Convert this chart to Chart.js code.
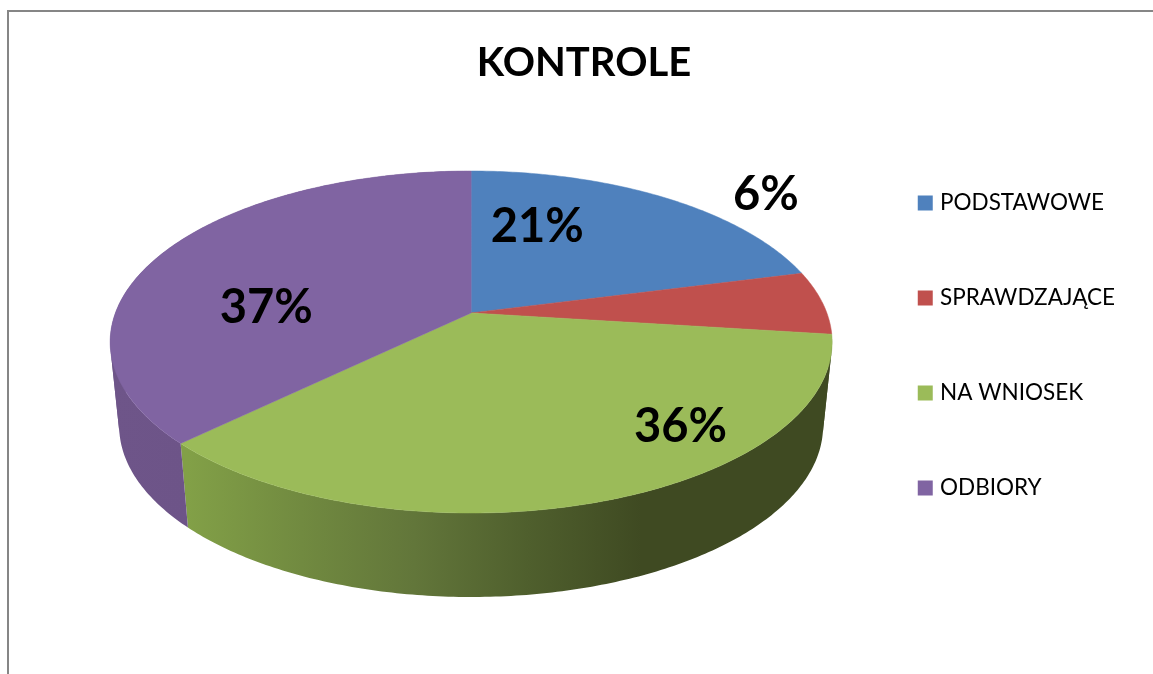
<!DOCTYPE html>
<html><head><meta charset="utf-8">
<style>
html,body{margin:0;padding:0;background:#fff;overflow:hidden;width:1153px;height:674px}
#frame{position:absolute;left:7px;top:10px;width:1146px;height:664px;border-left:2px solid #868686;border-top:2px solid #868686;pointer-events:none}
#c{position:absolute;left:8px;top:0}
</style>
<script src="https://cdn.jsdelivr.net/npm/chart.js@4"></script>
</head><body>
<canvas id="c" width="1152" height="674" style="width:1152px;height:674px"></canvas>
<div id="frame"></div>
<script>
const categories = ['PODSTAWOWE', 'SPRAWDZAJĄCE', 'NA WNIOSEK', 'ODBIORY'];
const values = [21, 6, 35.8, 37.2];
const pieTitle = 'KONTROLE';
const topColors = ['#4f81bd', '#c0504d', '#9bbb59', '#8064a2'];

const tilt3d = {
  id: 'tilt3d',
  beforeDatasetsDraw(chart, args, o) {
    const ctx = chart.ctx, arcs = chart.getDatasetMeta(0).data;
    const R = arcs[0].outerRadius, cx = arcs[0].x + o.panX, cy = arcs[0].y + o.panY;
    const k = Math.sqrt(1 - o.shift * o.shift);
    const project = (th, frac, stretch, dy) => {
      const X = Math.cos(th) * frac, Y = Math.sin(th) * frac;
      const den = 1 - o.shift * Y;
      return [cx + R * stretch * X * k / den, cy + dy + R * (Y - o.shift) / den];
    };
    const trace = (a, b) => {
      const n = Math.max(4, Math.ceil(Math.abs(b - a) * 80));
      for (let i = 0; i <= n; i++) {
        const p = project(a + (b - a) * i / n, 1, o.stretch, 0);
        ctx.lineTo(p[0], p[1]);
      }
    };
    ctx.save();
    // side wall: quads swept from the top rim to the bottom rim, grouped by
    // orientation so that each group fills as one seamless path
    arcs.forEach((el, i) => {
      const w = o.walls[i];
      if (!w) return;
      const g = ctx.createLinearGradient(cx + w.from, 0, cx + w.to, 0);
      w.stops.forEach((c, j) => g.addColorStop(j / (w.stops.length - 1), c));
      ctx.fillStyle = g;
      const front = new Path2D(), back = new Path2D();
      const n = Math.ceil((el.endAngle - el.startAngle) * 80);
      const at = t => el.startAngle + (el.endAngle - el.startAngle) * t / n;
      for (let s = 0; s < n; s++) {
        const a = project(at(s), 1, o.stretch, 0);
        const b = project(at(s + 1), 1, o.stretch, 0);
        const c = project(at(s + 1), 1, o.stretch * o.bottomScale, o.depth);
        const d = project(at(s), 1, o.stretch * o.bottomScale, o.depth);
        const area = (b[0] - a[0]) * (d[1] - a[1]) - (b[1] - a[1]) * (d[0] - a[0]);
        const path = area > 0 ? front : back;
        path.moveTo(a[0], a[1]);
        path.lineTo(b[0], b[1]);
        path.lineTo(c[0], c[1]);
        path.lineTo(d[0], d[1]);
        path.closePath();
      }
      ctx.fill(back);
      ctx.fill(front);
    });
    // top face
    arcs.forEach(el => {
      const apex = project(0, 0, o.stretch, 0);
      ctx.beginPath();
      ctx.moveTo(apex[0], apex[1]);
      trace(el.startAngle, el.endAngle);
      ctx.closePath();
      ctx.fillStyle = el.options.backgroundColor;
      ctx.strokeStyle = el.options.backgroundColor;
      ctx.lineWidth = 0.5;
      ctx.fill();
      ctx.stroke();
    });
    // value labels
    ctx.fillStyle = '#000';
    ctx.font = o.labelFont;
    ctx.textAlign = 'center';
    ctx.textBaseline = 'middle';
    const total = values.reduce((a, b) => a + b, 0);
    arcs.forEach((el, i) => {
      const p = project((el.startAngle + el.endAngle) / 2, 0.6, o.stretch, 0);
      const nudge = o.nudges[i];
      ctx.fillText(Math.round(values[i] / total * 100) + '%', p[0] + nudge[0], p[1] + nudge[1]);
    });
    ctx.restore();
    return false;
  }
};

new Chart(document.getElementById('c'), {
  type: 'pie',
  plugins: [tilt3d],
  data: {
    labels: categories,
    datasets: [{ data: values, backgroundColor: topColors, borderColor: topColors, borderWidth: 8, radius: 171 }]
  },
  options: {
    responsive: false,
    animation: false,
    layout: { padding: { left: 35, right: 35, top: 17, bottom: 0 } },
    plugins: {
      tooltip: { enabled: false },
      title: {
        display: true, text: pieTitle, color: '#000',
        font: { family: 'Lato', size: 40, weight: 'bold' },
        padding: { top: 22, bottom: 32 }
      },
      legend: {
        position: 'right',
        labels: {
          color: '#000', boxWidth: 7, boxHeight: 7, padding: 72.5,
          font: { family: 'Lato', size: 22.5 }
        }
      },
      tilt3d: {
        panX: 25, panY: -54.5,
        shift: 0.17, stretch: 2.111, bottomScale: 0.975, depth: 84,
        labelFont: 'bold 47px Lato',
        nudges: [[-55, -13], [83, -112], [135, 9], [-16, 32]],
        walls: [null, null,
          { from: -283, to: 170, stops: ['#82a047', '#718a40', '#62763a', '#4f5f2d', '#3f4a22'] },
          { from: -361, to: -283, stops: ['#6e5589', '#6d5488'] }]
      }
    }
  }
});
</script>
</body></html>
